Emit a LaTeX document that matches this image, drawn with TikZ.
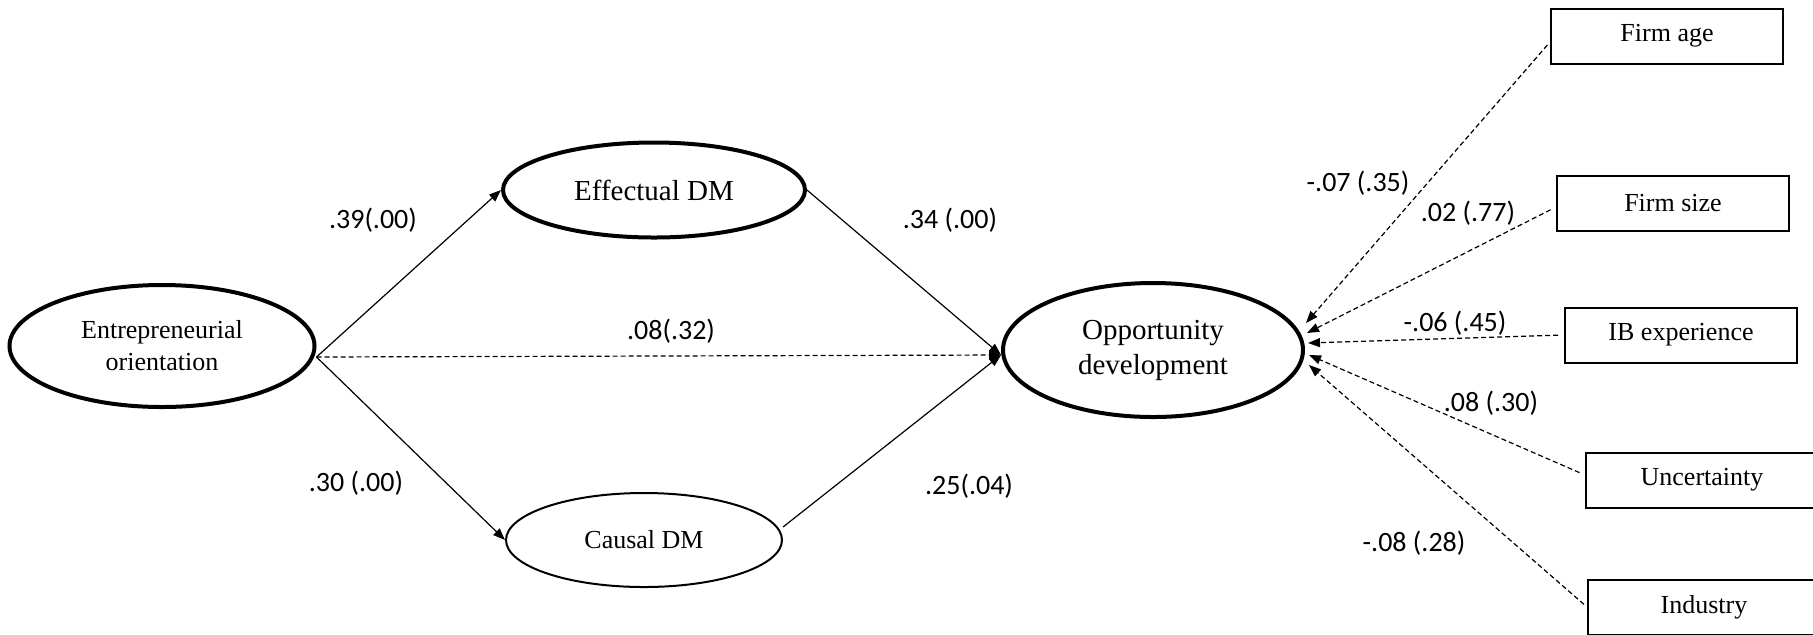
\documentclass[tikz,border=0pt]{standalone}
\usepackage{fontspec}
\setmainfont{Liberation Serif}
\newfontfamily\lblfont{Carlito}
\usetikzlibrary{shapes.geometric,arrows.meta,calc}
\begin{document}
\begin{tikzpicture}[x=0.5pt,y=-0.5pt,
  latent/.style={ellipse,draw,line width=2pt,inner sep=0pt,align=center},
  ctrl/.style={rectangle,draw,line width=1pt,inner sep=0pt,minimum width=116pt,minimum height=27.5pt,font=\fontsize{13}{15}\selectfont},
  arr/.style={line width=0.6pt,-{Triangle[length=6pt,width=4.5pt]}},
  darr/.style={arr,dash pattern=on 2.5pt off 1.5pt},
  lbl/.style={font=\lblfont\fontsize{14}{16}\selectfont,inner sep=0pt}
]
\useasboundingbox (0,0) rectangle (1813,634);

\node[latent,minimum width=152.5pt,minimum height=61pt,font=\fontsize{13}{16}\selectfont] (EO) at (162,346) {Entrepreneurial\\orientation};
\node[latent,minimum width=151pt,minimum height=47.5pt,font=\fontsize{14.5}{17.5}\selectfont] (ED) at (654,190) {Effectual DM};
\node[latent,line width=1pt,minimum width=138pt,minimum height=47pt,font=\fontsize{13}{16}\selectfont] (CD) at (644,540) {Causal DM};
\node[latent,minimum width=150pt,minimum height=67pt,font=\fontsize{14.5}{17.5}\selectfont] (OD) at (1153,350) {Opportunity\\development};

\node[ctrl] (FA) at (1667,36) {Firm age};
\node[ctrl] (FS) at (1673,203) {Firm size};
\node[ctrl] (IB) at (1681,335) {IB experience};
\node[ctrl] (UN) at (1702,480) {Uncertainty};
\node[ctrl] (IN) at (1704,607) {Industry};

\coordinate (eoR) at ($(EO.east)+(0,11)$);
\coordinate (odL) at ($(OD.west)+(0,5)$);

\draw[arr] (eoR) -- (ED.west);
\draw[arr] (eoR) -- (CD.west);
\draw[darr] (eoR) -- (odL);
\draw[arr] (ED.east) -- (odL);
\draw[arr] ($(CD.east)+(0,-13)$) -- (odL);

\draw[darr,shorten <=2pt] ($(FA.west)+(0,6)$) -- ($(OD.east)+(1,-27)$);
\draw[darr,shorten <=3pt] ($(FS.west)+(0,4)$) -- ($(OD.east)+(2,-17)$);
\draw[darr,shorten <=3pt] (IB.west) -- ($(OD.east)+(3,-7)$);
\draw[darr,shorten <=3pt] ($(UN.west)+(0,-5)$) -- ($(OD.east)+(4,5)$);
\draw[darr,shorten <=2pt] (IN.west) -- ($(OD.east)+(4,15)$);

\node[lbl] (l1) at (373,220) {.39(.00)};
\node[lbl] (l2) at (950,220) {.34 (.00)};
\node[lbl] (l3) at (671,331) {.08(.32)};
\node[lbl] (l4) at (356,483) {.30 (.00)};
\node[lbl] (l5) at (969,486) {.25(.04)};
\node[lbl] (l6) at (1358,183) {-.07 (.35)};
\node[lbl] (l7) at (1468,213) {.02 (.77)};
\node[lbl] (l8) at (1455,323) {-.06 (.45)};
\node[lbl] (l9) at (1491,403) {.08 (.30)};
\node[lbl] (l10) at (1414,543) {-.08 (.28)};
\end{tikzpicture}
\end{document}
